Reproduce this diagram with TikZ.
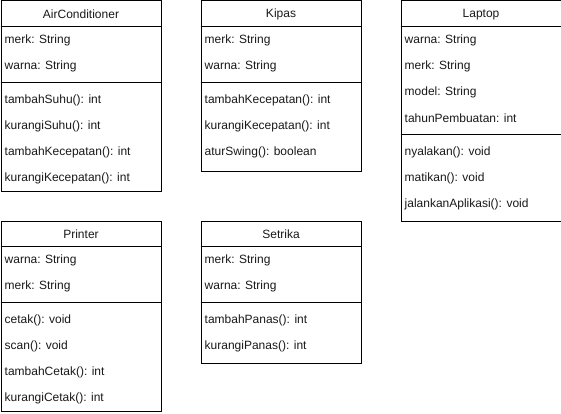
\documentclass[tikz,border=0pt]{standalone}
\usepackage{fontspec}
\setmainfont{Liberation Sans}
\begin{document}
\begin{tikzpicture}[x=1pt,y=-1pt,
  cls/.style={draw=black,line width=1pt,fill=white,inner sep=0pt,anchor=north west,minimum width=160pt},
  ttl/.style={inner sep=0pt,font=\fontsize{12}{14}\selectfont,text=black!90},
  itm/.style={inner sep=0pt,anchor=west,font=\fontsize{12}{14}\selectfont,text=black!90},
  sepline/.style={draw=black,line width=1pt}]
\useasboundingbox (0,0) rectangle (561,414);

% AirConditioner
\node[cls,minimum height=190pt] (ac) at (0.5,0.5) {};
\node[ttl] (acT) at ([yshift=-14pt]ac.north) {AirConditioner};
\draw[sepline] ([yshift=-26pt]ac.north west) -- ([yshift=-26pt]ac.north east);
\draw[sepline] ([yshift=-82pt]ac.north west) -- ([yshift=-82pt]ac.north east);
\node[itm] (ac1) at ([shift={(4pt,-40pt)}]ac.north west) {merk: String};
\node[itm] (ac2) at ([shift={(4pt,-66pt)}]ac.north west) {warna: String};
\node[itm] (ac3) at ([shift={(4pt,-100pt)}]ac.north west) {tambahSuhu(): int};
\node[itm] (ac4) at ([shift={(4pt,-126pt)}]ac.north west) {kurangiSuhu(): int};
\node[itm] (ac5) at ([shift={(4pt,-152pt)}]ac.north west) {tambahKecepatan(): int};
\node[itm] (ac6) at ([shift={(4pt,-178pt)}]ac.north west) {kurangiKecepatan(): int};

% Kipas
\node[cls,minimum height=170pt] (kp) at (200.5,0.5) {};
\node[ttl] (kpT) at ([yshift=-14pt]kp.north) {Kipas};
\draw[sepline] ([yshift=-26pt]kp.north west) -- ([yshift=-26pt]kp.north east);
\draw[sepline] ([yshift=-82pt]kp.north west) -- ([yshift=-82pt]kp.north east);
\node[itm] (kp1) at ([shift={(4pt,-40pt)}]kp.north west) {merk: String};
\node[itm] (kp2) at ([shift={(4pt,-66pt)}]kp.north west) {warna: String};
\node[itm] (kp3) at ([shift={(4pt,-100pt)}]kp.north west) {tambahKecepatan(): int};
\node[itm] (kp4) at ([shift={(4pt,-126pt)}]kp.north west) {kurangiKecepatan(): int};
\node[itm] (kp5) at ([shift={(4pt,-152pt)}]kp.north west) {aturSwing(): boolean};

% Laptop
\node[cls,minimum height=220pt] (lp) at (400.5,0.5) {};
\node[ttl] (lpT) at ([yshift=-14pt]lp.north) {Laptop};
\draw[sepline] ([yshift=-26pt]lp.north west) -- ([yshift=-26pt]lp.north east);
\draw[sepline] ([yshift=-134pt]lp.north west) -- ([yshift=-134pt]lp.north east);
\node[itm] (lp1) at ([shift={(4pt,-40pt)}]lp.north west) {warna: String};
\node[itm] (lp2) at ([shift={(4pt,-66pt)}]lp.north west) {merk: String};
\node[itm] (lp3) at ([shift={(4pt,-92pt)}]lp.north west) {model: String};
\node[itm] (lp4) at ([shift={(4pt,-118pt)}]lp.north west) {tahunPembuatan: int};
\node[itm] (lp5) at ([shift={(4pt,-152pt)}]lp.north west) {nyalakan(): void};
\node[itm] (lp6) at ([shift={(4pt,-178pt)}]lp.north west) {matikan(): void};
\node[itm] (lp7) at ([shift={(4pt,-204pt)}]lp.north west) {jalankanAplikasi(): void};

% Printer
\node[cls,minimum height=190pt] (pr) at (0.5,220.5) {};
\node[ttl] (prT) at ([yshift=-14pt]pr.north) {Printer};
\draw[sepline] ([yshift=-26pt]pr.north west) -- ([yshift=-26pt]pr.north east);
\draw[sepline] ([yshift=-82pt]pr.north west) -- ([yshift=-82pt]pr.north east);
\node[itm] (pr1) at ([shift={(4pt,-40pt)}]pr.north west) {warna: String};
\node[itm] (pr2) at ([shift={(4pt,-66pt)}]pr.north west) {merk: String};
\node[itm] (pr3) at ([shift={(4pt,-100pt)}]pr.north west) {cetak(): void};
\node[itm] (pr4) at ([shift={(4pt,-126pt)}]pr.north west) {scan(): void};
\node[itm] (pr5) at ([shift={(4pt,-152pt)}]pr.north west) {tambahCetak(): int};
\node[itm] (pr6) at ([shift={(4pt,-178pt)}]pr.north west) {kurangiCetak(): int};

% Setrika
\node[cls,minimum height=142pt] (st) at (200.5,220.5) {};
\node[ttl] (stT) at ([yshift=-14pt]st.north) {Setrika};
\draw[sepline] ([yshift=-26pt]st.north west) -- ([yshift=-26pt]st.north east);
\draw[sepline] ([yshift=-82pt]st.north west) -- ([yshift=-82pt]st.north east);
\node[itm] (st1) at ([shift={(4pt,-40pt)}]st.north west) {merk: String};
\node[itm] (st2) at ([shift={(4pt,-66pt)}]st.north west) {warna: String};
\node[itm] (st3) at ([shift={(4pt,-100pt)}]st.north west) {tambahPanas(): int};
\node[itm] (st4) at ([shift={(4pt,-126pt)}]st.north west) {kurangiPanas(): int};
\end{tikzpicture}
\end{document}
